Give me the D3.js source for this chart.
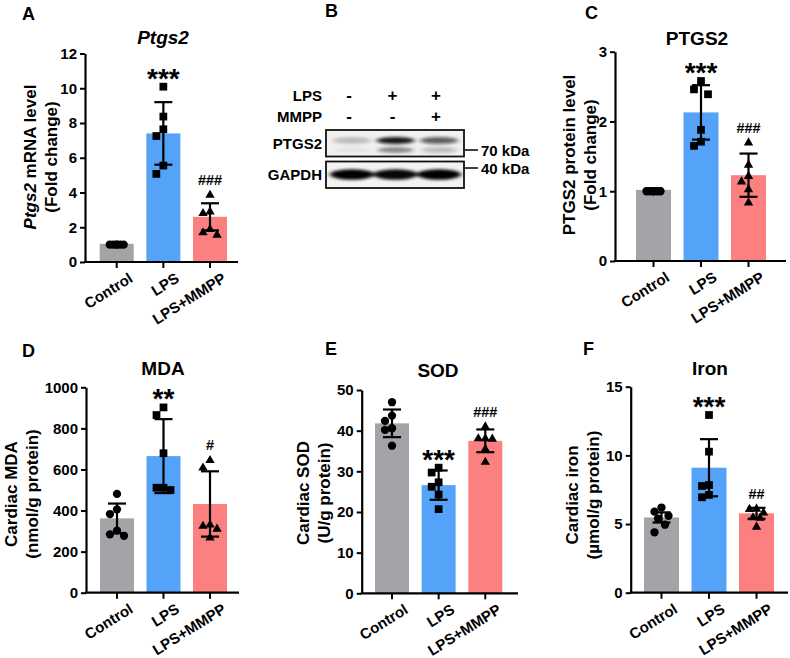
<!DOCTYPE html>
<html><head><meta charset="utf-8">
<script src="https://cdn.jsdelivr.net/npm/d3@7"></script>
<style>
body{margin:0;background:#fff}
text{font-family:"Liberation Sans",Arial,sans-serif;fill:#000}
</style>
</head><body>
<svg id="c" width="790" height="658" xmlns="http://www.w3.org/2000/svg"></svg>
<script>
// ---------------- data ----------------
const groups = ["Control", "LPS", "LPS+MMPP"];
const barColors = ["#a4a4a8", "#55a3f8", "#fc8080"];
const markerShapes = ["circle", "square", "triangle"];

// A: Ptgs2 mRNA
const mrnaTicks = [0, 2, 4, 6, 8, 10, 12];
const mrnaMean = [1.05, 7.4, 2.6];
const mrnaSD = [0.04, 1.8, 0.78];
const mrnaPoints = [[1.0, 1.0, 1.0, 1.0, 1.0, 1.0], [10.09, 8.37, 7.64, 7.25, 5.55, 5.07], [3.91, 2.95, 2.86, 1.94, 1.75, 1.61]];
const mrnaSig = ["", "***", "###"];

// B: western blot
const lpsSigns = ["-", "+", "+"];
const mmppSigns = ["-", "-", "+"];
const ptgs2UpperBand = [0.22, 0.95, 0.65];
const ptgs2LowerBand = [0.05, 0.5, 0.25];
const gapdhBand = [1.0, 0.97, 1.0];
const blotMarkers = ["70 kDa", "40 kDa"];

// C: PTGS2 protein
const protTicks = [0, 1, 2, 3];
const protMean = [1.02, 2.13, 1.23];
const protSD = [0.02, 0.39, 0.31];
const protPoints = [[1.0, 1.0, 1.0, 1.0, 1.0, 1.0], [2.58, 2.46, 2.39, 1.88, 1.71, 1.65], [1.71, 1.39, 1.23, 1.15, 1.04, 0.85]];
const protSig = ["", "***", "###"];

// D: MDA
const mdaTicks = [0, 200, 400, 600, 800, 1000];
const mdaMean = [362, 665, 432];
const mdaSD = [72, 180, 159];
const mdaPoints = [[481, 406, 383, 302, 284, 277], [902, 865, 679, 511, 511, 500], [649, 613, 335, 329, 315, 272]];
const mdaSig = ["", "**", "#"];

// E: SOD
const sodTicks = [0, 10, 20, 30, 40, 50];
const sodMean = [41.8, 26.6, 37.5];
const sodSD = [3.4, 3.6, 2.8];
const sodPoints = [[47.0, 43.7, 42.4, 40.6, 40.2, 36.3], [30.9, 29.7, 27.3, 26.2, 24.3, 20.7], [41.2, 38.3, 38.3, 38.2, 35.7, 32.5]];
const sodSig = ["", "***", "###"];

// F: Iron
const ironTicks = [0, 5, 10, 15];
const ironMean = [5.48, 9.1, 5.78];
const ironSD = [0.37, 2.08, 0.4];
const ironPoints = [[6.2, 5.9, 5.6, 5.4, 4.95, 4.4], [12.94, 10.27, 7.84, 7.77, 7.12, 6.95], [6.17, 6.15, 5.9, 5.54, 5.5, 4.86]];
const ironSig = ["", "***", "##"];

// ---------------- drawing ----------------
const svg = d3.select("#c");

function dodge(values, y, center) {
  const placed = [];
  const order = values.map((v, i) => i).sort((a, b) => values[b] - values[a]);
  const cand = [0, -7, 7, -3.5, 3.5];
  const res = new Array(values.length);
  for (const i of order) {
    const py = y(values[i]);
    let best = 0, bestD = -1;
    for (const c of cand) {
      let md = Infinity;
      for (const p of placed) md = Math.min(md, Math.hypot(p.x - c, p.y - py));
      if (md >= 9) { best = c; bestD = md; break; }
      if (md > bestD) { bestD = md; best = c; }
    }
    placed.push({x: best, y: py});
    res[i] = center + best;
  }
  return res;
}

const symbolFor = {
  circle: d3.symbol().type(d3.symbolCircle).size(54),
  square: d3.symbol().type(d3.symbolSquare).size(60),
  triangle: d3.symbol().type(d3.symbolTriangle).size(38)
};

function panel(cfg) {
  const g = svg.append("g");
  const y = d3.scaleLinear().domain([0, cfg.ticks[cfg.ticks.length - 1]]).range([cfg.y0, cfg.yTop]);
  const x = d3.scalePoint().domain(groups).range(cfg.centers);
  const bw = cfg.barW;

  // bars
  g.selectAll("rect.bar").data(groups).join("rect")
    .attr("x", d => x(d) - bw / 2).attr("width", bw)
    .attr("y", (d, i) => y(cfg.mean[i]))
    .attr("height", (d, i) => y(0) - y(cfg.mean[i]))
    .attr("fill", (d, i) => barColors[i]);

  // error bars
  groups.forEach((grp, i) => {
    const cx = x(grp), top = y(cfg.mean[i] + cfg.sd[i]), bot = y(cfg.mean[i] - cfg.sd[i]);
    const eg = g.append("g").attr("stroke", "#000").attr("stroke-width", 2.2);
    eg.append("line").attr("x1", cx).attr("x2", cx).attr("y1", top).attr("y2", bot);
    eg.append("line").attr("x1", cx - 9).attr("x2", cx + 9).attr("y1", top).attr("y2", top);
    eg.append("line").attr("x1", cx - 9).attr("x2", cx + 9).attr("y1", bot).attr("y2", bot);
  });

  // points
  groups.forEach((grp, i) => {
    const vals = cfg.points[i];
    const xs = dodge(vals, y, x(grp));
    g.selectAll(null).data(vals).join("path")
      .attr("d", symbolFor[markerShapes[i]])
      .attr("transform", (d, j) => `translate(${xs[j]},${y(d) + (markerShapes[i] === "triangle" ? 1 : 0)})`)
      .attr("fill", "#000");
  });

  // significance
  groups.forEach((grp, i) => {
    const s = cfg.sig[i];
    if (!s) return;
    const topVal = Math.max(d3.max(cfg.points[i]), cfg.mean[i] + cfg.sd[i]);
    const cy = y(topVal) - 14;
    const isStar = s[0] === "*";
    g.append("text").attr("x", x(grp)).attr("y", isStar ? cy + 15 : cy + 5)
      .attr("text-anchor", "middle")
      .attr("font-size", isStar ? 28 : 14.5).attr("font-weight", "bold")
      .text(s);
  });

  // y axis
  const ya = g.append("g").attr("transform", `translate(${cfg.axisX},0)`)
    .call(d3.axisLeft(y).tickValues(cfg.ticks).tickSize(5).tickSizeOuter(0).tickPadding(3).tickFormat(d3.format("d")));
  ya.select(".domain").attr("stroke-width", 2.2);
  ya.selectAll(".tick line").attr("stroke-width", 2);
  ya.selectAll(".tick text").attr("font-size", 15).attr("font-weight", "bold")
    .attr("font-family", "Liberation Sans, Arial, sans-serif").attr("fill", "#000");

  // x axis
  const xa = g.append("g").attr("transform", `translate(0,${cfg.y0})`);
  xa.append("line").attr("x1", cfg.axisX - 1).attr("x2", cfg.xEnd).attr("stroke", "#000").attr("stroke-width", 2.2);
  groups.forEach((grp, i) => {
    xa.append("line").attr("x1", x(grp)).attr("x2", x(grp)).attr("y1", 0).attr("y2", 6)
      .attr("stroke", "#000").attr("stroke-width", 2);
    xa.append("text").attr("transform", `translate(${x(grp) + 17},${19}) rotate(-32)`)
      .attr("text-anchor", "end").attr("font-size", 15).attr("font-weight", "bold").text(grp);
  });

  // title
  const t = g.append("text").attr("x", cfg.titleX).attr("y", cfg.titleY).attr("text-anchor", "middle")
    .attr("font-size", 19).attr("font-weight", "bold").text(cfg.title);
  if (cfg.titleItalic) t.attr("font-style", "italic");

  // y title (two lines)
  const yt = g.append("text").attr("transform", `translate(${cfg.yTitleX},${cfg.yTitleY}) rotate(-90)`)
    .attr("text-anchor", "middle").attr("font-size", 17).attr("font-weight", "bold");
  cfg.yTitle1(yt.append("tspan").attr("x", 0).attr("dy", 0));
  yt.append("tspan").attr("x", 0).attr("dy", 21).text(cfg.yTitle2);

  // panel letter
  g.append("text").attr("x", cfg.letterX).attr("y", cfg.letterY).attr("font-size", 18)
    .attr("font-weight", "bold").text(cfg.letter);
}

panel({letter: "A", letterX: 22, letterY: 20, title: "Ptgs2", titleItalic: true, titleX: 163, titleY: 44,
  ticks: mrnaTicks, mean: mrnaMean, sd: mrnaSD, points: mrnaPoints, sig: mrnaSig,
  axisX: 85, xEnd: 238, y0: 262, yTop: 53.5, centers: [116.7, 210], barW: 34,
  yTitleX: 36, yTitleY: 157,
  yTitle1: s => { s.append("tspan").attr("font-style", "italic").text("Ptgs2"); s.append("tspan").text(" mRNA level"); },
  yTitle2: "(Fold change)"});

panel({letter: "C", letterX: 585, letterY: 19, title: "PTGS2", titleX: 697, titleY: 45,
  ticks: protTicks, mean: protMean, sd: protSD, points: protPoints, sig: protSig,
  axisX: 615, xEnd: 786, y0: 261, yTop: 51.7, centers: [653.5, 748.5], barW: 35,
  yTitleX: 575, yTitleY: 155,
  yTitle1: s => s.text("PTGS2 protein level"), yTitle2: "(Fold change)"});

panel({letter: "D", letterX: 22, letterY: 357, title: "MDA", titleX: 163, titleY: 375,
  ticks: mdaTicks, mean: mdaMean, sd: mdaSD, points: mdaPoints, sig: mdaSig,
  axisX: 86, xEnd: 239, y0: 592.7, yTop: 387.3, centers: [117, 210], barW: 34,
  yTitleX: 17, yTitleY: 494,
  yTitle1: s => s.text("Cardiac MDA"), yTitle2: "(nmol/g protein)"});

panel({letter: "E", letterX: 325, letterY: 355, title: "SOD", titleX: 438, titleY: 377,
  ticks: sodTicks, mean: sodMean, sd: sodSD, points: sodPoints, sig: sodSig,
  axisX: 361.7, xEnd: 518, y0: 593.3, yTop: 390, centers: [392, 485.3], barW: 34,
  yTitleX: 309, yTitleY: 493,
  yTitle1: s => s.text("Cardiac SOD"), yTitle2: "(U/g protein)"});

panel({letter: "F", letterX: 583, letterY: 355, title: "Iron", titleX: 710, titleY: 375,
  ticks: ironTicks, mean: ironMean, sd: ironSD, points: ironPoints, sig: ironSig,
  axisX: 630.7, xEnd: 788, y0: 592.7, yTop: 386.7, centers: [661.5, 756.5], barW: 35,
  yTitleX: 578, yTitleY: 495,
  yTitle1: s => s.text("Cardiac iron"), yTitle2: "(\u00b5mol/g protein)"});

// ---------------- panel B: western blot ----------------
(function () {
  const g = svg.append("g");
  const defs = svg.append("defs");
  defs.append("filter").attr("id", "blur").attr("x", "-50%").attr("y", "-100%").attr("width", "200%").attr("height", "300%")
    .append("feGaussianBlur").attr("stdDeviation", "2.4 1.7");
  const lane = d3.scalePoint().domain([0, 1, 2]).range([352, 439]);
  const boxX0 = 326, boxX1 = 464;

  g.append("text").attr("x", 325).attr("y", 17).attr("font-size", 18).attr("font-weight", "bold").text("B");

  // sign rows
  const rows = [{label: "LPS", signs: lpsSigns, y: 101}, {label: "MMPP", signs: mmppSigns, y: 122}];
  rows.forEach(r => {
    g.append("text").attr("x", 322).attr("y", r.y).attr("text-anchor", "end").attr("font-size", 15)
      .attr("font-weight", "bold").text(r.label);
    r.signs.forEach((s, i) => g.append("text").attr("x", lane(i) - 3).attr("y", r.y).attr("text-anchor", "middle")
      .attr("font-size", 17).attr("font-weight", "bold").text(s));
  });

  // PTGS2 box
  const b1 = g.append("g");
  b1.append("rect").attr("x", boxX0).attr("y", 130).attr("width", boxX1 - boxX0).attr("height", 26.5)
    .attr("fill", "#f1f1f1");
  const bands1 = b1.append("g").attr("filter", "url(#blur)");
  ptgs2UpperBand.forEach((v, i) => bands1.append("ellipse").attr("cx", lane(i)).attr("cy", 140.5)
    .attr("rx", 19).attr("ry", 3.6).attr("fill", "#111").attr("opacity", v));
  ptgs2LowerBand.forEach((v, i) => bands1.append("ellipse").attr("cx", lane(i)).attr("cy", 150)
    .attr("rx", 18).attr("ry", 3).attr("fill", "#222").attr("opacity", v));
  b1.append("rect").attr("x", boxX0).attr("y", 130).attr("width", boxX1 - boxX0).attr("height", 26.5)
    .attr("fill", "none").attr("stroke", "#111").attr("stroke-width", 1.8);

  // GAPDH box
  const b2 = g.append("g");
  b2.append("rect").attr("x", boxX0).attr("y", 161.5).attr("width", boxX1 - boxX0).attr("height", 26.5)
    .attr("fill", "#f3f3f3");
  const bands2 = b2.append("g").attr("filter", "url(#blur)");
  gapdhBand.forEach((v, i) => bands2.append("ellipse").attr("cx", lane(i)).attr("cy", 174.5)
    .attr("rx", 22).attr("ry", 5.2).attr("fill", "#000").attr("opacity", v));
  b2.append("rect").attr("x", boxX0).attr("y", 161.5).attr("width", boxX1 - boxX0).attr("height", 26.5)
    .attr("fill", "none").attr("stroke", "#111").attr("stroke-width", 1.8);

  g.append("text").attr("x", 322).attr("y", 148.5).attr("text-anchor", "end").attr("font-size", 15)
    .attr("font-weight", "bold").text("PTGS2");
  g.append("text").attr("x", 322).attr("y", 179.5).attr("text-anchor", "end").attr("font-size", 15)
    .attr("font-weight", "bold").text("GAPDH");

  // MW markers
  [150, 168].forEach((yy, i) => {
    g.append("line").attr("x1", 465).attr("x2", 478).attr("y1", yy).attr("y2", yy).attr("stroke", "#000").attr("stroke-width", 1.5);
    g.append("text").attr("x", 481).attr("y", yy + 5.5).attr("font-size", 15).attr("font-weight", "bold").text(blotMarkers[i]);
  });
})();
</script>
</body></html>
